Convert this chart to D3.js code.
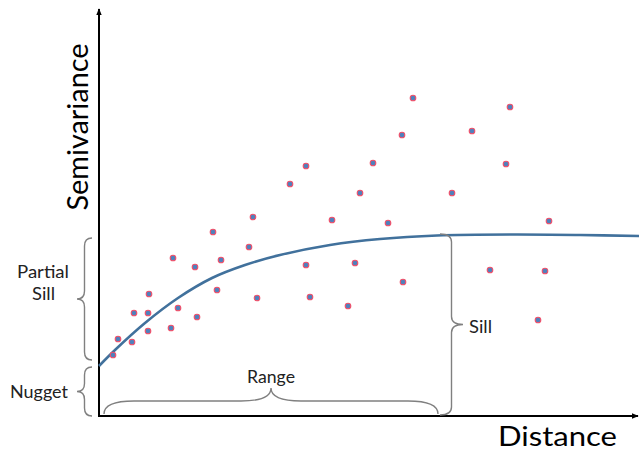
<!DOCTYPE html>
<html><head><meta charset="utf-8">
<script src="https://cdn.jsdelivr.net/npm/d3@7"></script>
<style>html,body{margin:0;padding:0;background:#fff;}svg{display:block;}</style>
</head><body>
<svg id="chart" width="639" height="450"></svg>
<script>
// Observed semivariance points (distance, semivariance)
const pointDistance = [14,19,33,35,49,50,49,72,79,98,118,74,96,114,122,150,154,158,191,207,207,211,233,249,256,261,274,289,303,304,314,353,373,391,407,411,439,446,450];
const pointSemivariance = [61,77,74,103,103,122,85,88,108,99,126,158,149,184,156,169,199,118,232,250,151,119,196,110,153,223,253,193,281,134,318,223,285,146,252,309,96,145,195];
// Fitted model curve
const modelDistance = [0,16,46,79,113,146,181,231,281,338,414,481,540];
const modelSemivariance = [50,66,93,118,138,151,161,171,177,180.5,181.5,181,180];
// Annotation values
const nuggetValue = 51;
const partialSillRange = [56, 178];
const sillValue = 180;
const rangeSpan = [5, 339];
const axisLabels = {x: "Distance", y: "Semivariance"};

const svg = d3.select("#chart");
const x = d3.scaleLinear().domain([0, 540]).range([99, 639]);
const y = d3.scaleLinear().domain([0, 408]).range([416, 8]);

const font = "Lato, 'Open Sans', sans-serif";

// arrow marker
svg.append("defs").append("marker")
  .attr("id","arr").attr("viewBox","0 0 10 10").attr("refX",9).attr("refY",5)
  .attr("markerWidth",7).attr("markerHeight",7).attr("markerUnits","userSpaceOnUse")
  .attr("orient","auto")
  .append("path").attr("d","M0,1 L10,5 L0,9 Z").attr("fill","#000");

// axes
svg.append("line").attr("x1",x(0)).attr("y1",y(0)).attr("x2",x(0)).attr("y2",y(408)+1)
  .attr("stroke","#000").attr("stroke-width",2).attr("marker-end","url(#arr)");
svg.append("line").attr("x1",x(0)-1).attr("y1",y(0)).attr("x2",x(540)-1).attr("y2",y(0))
  .attr("stroke","#000").attr("stroke-width",2).attr("marker-end","url(#arr)");

// axis titles
svg.append("text").text(axisLabels.y)
  .attr("transform",`translate(${x(0)-11.5},${y(289)}) rotate(-90)`)
  .attr("text-anchor","middle").attr("font-family",font).attr("font-size",29)
  .attr("textLength",167).attr("lengthAdjust","spacingAndGlyphs").attr("fill","#000");
svg.append("text").text(axisLabels.x)
  .attr("x",x(458.5)).attr("y",445.5).attr("text-anchor","middle")
  .attr("font-family",font).attr("font-size",26)
  .attr("textLength",119).attr("lengthAdjust","spacingAndGlyphs").attr("fill","#000");

// model curve
const lineGen = d3.line().x((d,i)=>x(modelDistance[i])).y((d,i)=>y(modelSemivariance[i])).curve(d3.curveCatmullRom.alpha(0.5));
svg.append("path").datum(modelDistance).attr("d",lineGen)
  .attr("fill","none").attr("stroke","#41719c").attr("stroke-width",2.6);

// points
svg.append("g").selectAll("circle").data(pointDistance).join("circle")
  .attr("cx",(d)=>x(d)).attr("cy",(d,i)=>y(pointSemivariance[i])).attr("r",2.8)
  .attr("fill","#4f81bd").attr("stroke","#f0506a").attr("stroke-width",1.1);

// brace helpers
function vBrace(x0, y1, y2, d) { // ends at x0, tip at x0+d (d may be negative)
  const ym = (y1+y2)/2, h = d/2, r = Math.min(8, Math.abs(y2-y1)/4);
  return `M${x0},${y1} Q${x0+h},${y1} ${x0+h},${y1+r} L${x0+h},${ym-r} Q${x0+h},${ym} ${x0+d},${ym} Q${x0+h},${ym} ${x0+h},${ym+r} L${x0+h},${y2-r} Q${x0+h},${y2} ${x0},${y2}`;
}
function hBrace(y0, x1, x2, d) { // ends at y0, tip at y0+d
  const xm = (x1+x2)/2, h = d/2, r = 30;
  return `M${x1},${y0} Q${x1},${y0+h} ${x1+r},${y0+h} L${xm-r},${y0+h} Q${xm},${y0+h} ${xm},${y0+d} Q${xm},${y0+h} ${xm+r},${y0+h} L${x2-r},${y0+h} Q${x2},${y0+h} ${x2},${y0}`;
}
const braceStyle = s => s.attr("fill","none").attr("stroke","#808080").attr("stroke-width",1.4);

// partial sill brace
svg.append("path").attr("d", vBrace(x(0)-7, y(partialSillRange[1]), y(partialSillRange[0]), -15)).call(braceStyle);
// nugget brace
svg.append("path").attr("d", vBrace(x(0)-7, y(nuggetValue)+2, y(0), -15)).call(braceStyle);
// sill brace
svg.append("path").attr("d", vBrace(x(rangeSpan[1])+2, y(sillValue)-2, y(0)-1, 23)).call(braceStyle);
// range brace
svg.append("path").attr("d", hBrace(y(0)-2, x(rangeSpan[0]), x(rangeSpan[1]), -26)).call(braceStyle);

// annotation labels
const lab = (t,xx,yy,anchor,len) => svg.append("text").text(t).attr("x",xx).attr("y",yy)
  .attr("text-anchor",anchor).attr("font-family",font).attr("font-size",16.5)
  .attr("textLength",len).attr("lengthAdjust","spacingAndGlyphs").attr("fill","#222");
lab("Partial", 43, 278, "middle", 52);
lab("Sill", 43.5, 300, "middle", 23);
lab("Nugget", 39, 398, "middle", 58);
lab("Range", x((rangeSpan[0]+rangeSpan[1])/2), 382.5, "middle", 48);
lab("Sill", x(rangeSpan[1])+31, 333, "start", 23);
</script>
</body></html>
